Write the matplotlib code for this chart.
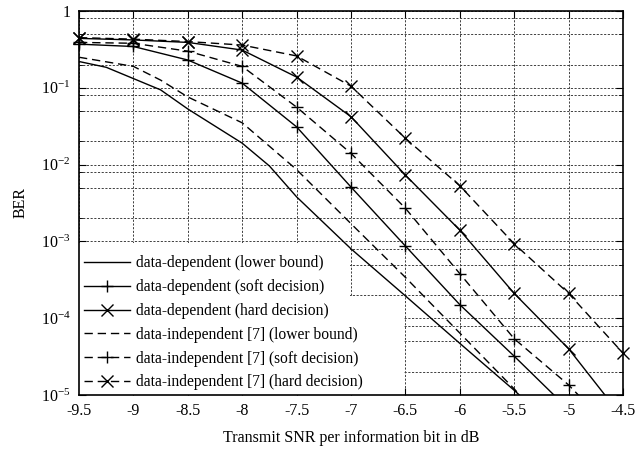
import matplotlib
matplotlib.use("Agg")
import matplotlib.pyplot as plt
import numpy as np
from matplotlib.patches import Rectangle
from matplotlib.ticker import LogLocator, NullFormatter

plt.rcParams['font.family'] = ['Liberation Serif', 'DejaVu Serif']
plt.rcParams['mathtext.fontset'] = 'custom'
plt.rcParams['mathtext.rm'] = 'Liberation Serif'
plt.rcParams['mathtext.it'] = 'Liberation Serif:italic'

# data
snr = [-9.5, -9.0, -8.5, -8.0, -7.5, -7.0, -6.5, -6.0, -5.5, -5.0, -4.5]

snr_lb_dep = [-9.5, -9.25, -8.75, -8.5, -8.0, -7.75, -7.5, -7.0, -6.5, -6.0, -5.5, -5.0]
ber_lb_dep = [0.22, 0.185, 0.094, 0.053, 0.019, 0.0096, 0.0038, 8e-4, 1.95e-4, 4.7e-5, 1.15e-5, 2.6e-6]

snr_lb_ind = [-9.5, -9.0, -8.75, -8.5, -8.0, -7.5, -7.0, -6.5, -6.0, -5.5, -5.0]
ber_lb_ind = [0.25, 0.19, 0.126, 0.076, 0.035, 0.0086, 1.7e-3, 3.4e-4, 6.4e-5, 1.2e-5, 2e-6]

ber_soft_dep = [0.37, 0.345, 0.23, 0.115, 0.031, 5.1e-3, 8.7e-4, 1.5e-4, 3.2e-5, 6.5e-6]
ber_soft_ind = [0.39, 0.38, 0.30, 0.19, 0.056, 0.014, 2.7e-3, 3.8e-4, 5.4e-5, 1.35e-5, 2.5e-6]

ber_hard_dep = [0.44, 0.42, 0.39, 0.31, 0.138, 0.042, 7.3e-3, 1.4e-3, 2.1e-4, 4e-5, 5e-6]
ber_hard_ind = [0.45, 0.43, 0.40, 0.36, 0.26, 0.105, 0.022, 5.3e-3, 9.3e-4, 2.1e-4, 3.5e-5]

labels = [
    "data-dependent (lower bound)",
    "data-dependent (soft decision)",
    "data-dependent (hard decision)",
    "data-independent [7] (lower bound)",
    "data-independent [7] (soft decision)",
    "data-independent [7] (hard decision)",
]

fig = plt.figure(figsize=(6.36, 4.51), dpi=100)
ax = fig.add_axes([0.1242, 0.1242, 0.8554, 0.8514])

dash = (0, (6, 3.5))
kw = dict(color="black", lw=1.0, ms=9, mew=1.0)


def curve(x, y, ls, marker, label):
    x = np.asarray(x)
    y = np.asarray(y)
    ax.plot(x, y, linestyle=ls, zorder=3, **kw)
    # markers drawn unclipped (they stick out of the box at the edges), only the visible ones
    keep = y >= 1e-5
    if marker:
        ax.plot(x[keep], y[keep], linestyle="none", marker=marker, clip_on=False, zorder=4, **kw)
    # legend proxy
    ax.plot([], [], linestyle=ls, marker=marker, label=label, **kw)


curve(snr_lb_dep, ber_lb_dep, "-", None, labels[0])
curve(snr[:len(ber_soft_dep)], ber_soft_dep, "-", "+", labels[1])
curve(snr, ber_hard_dep, "-", "x", labels[2])
curve(snr_lb_ind, ber_lb_ind, dash, None, labels[3])
curve(snr, ber_soft_ind, dash, "+", labels[4])
curve(snr, ber_hard_ind, dash, "x", labels[5])

ax.set_yscale("log")
ax.set_xlim(-9.5, -4.5)
ax.set_ylim(1e-5, 1)
ax.set_xticks(snr)
ax.set_xticklabels(["%g" % v for v in snr])
ax.set_yticks([1e-5, 1e-4, 1e-3, 1e-2, 1e-1, 1])
ax.set_yticklabels([r"$10^{-5}$", r"$10^{-4}$", r"$10^{-3}$", r"$10^{-2}$", r"$10^{-1}$", "1"])
ax.yaxis.set_minor_locator(LogLocator(base=10, subs=[2, 5, 8], numticks=20))
ax.yaxis.set_minor_formatter(NullFormatter())

ax.set_axisbelow(True)
gstyle = dict(color="0.25", linestyle=(0, (2.2, 1.6)), linewidth=0.7)
ax.grid(True, which="major", axis="both", **gstyle)
ax.grid(True, which="minor", axis="y", **gstyle)

ax.tick_params(which="both", direction="in", top=True, right=True, labelsize=11.5, colors="black", pad=6)
ax.tick_params(which="major", length=5, width=0.8)
ax.tick_params(which="minor", length=3, width=0.6)
for s in ax.spines.values():
    s.set_linewidth(1.2)

# white area behind the legend hides the grid there
ax.add_patch(Rectangle((0, 0), 0.498, 0.395, transform=ax.transAxes,
                       facecolor="white", edgecolor="none", zorder=1))
ax.add_patch(Rectangle((0, 0), 0.598, 0.255, transform=ax.transAxes,
                       facecolor="white", edgecolor="none", zorder=1))

ax.set_xlabel("Transmit SNR per information bit in dB", fontsize=11.5, labelpad=8)
ax.set_ylabel("BER", fontsize=11.5, labelpad=9)

leg = ax.legend(loc="lower left", frameon=False, fontsize=11.2, handlelength=3.0,
                handletextpad=0.35, borderaxespad=0.1, borderpad=0.2, labelspacing=0.5)

fig.savefig("out.png", dpi=100)
